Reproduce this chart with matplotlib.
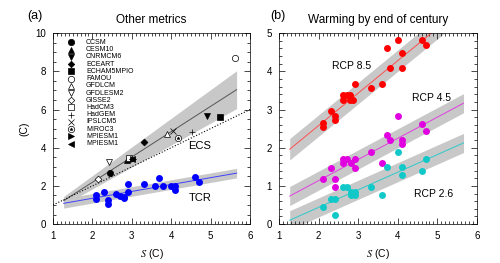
import numpy as np
import matplotlib
matplotlib.use("Agg")
import matplotlib.pyplot as plt
from matplotlib.ticker import MultipleLocator

plt.rcParams['font.family'] = ['Liberation Sans', 'DejaVu Sans']
plt.rcParams['mathtext.fontset'] = 'stix'

# ---- panel (a): ECS per model ----
models = ["CCSM", "CESM10", "CNRMCM6", "ECEART", "ECHAM5MPIO", "FAMOU", "GFDLCM",
          "GFDLESM2", "GISSE2", "HadCM3", "HadGEM", "IPSLCM5", "MIROC3", "MPIESM1", "MPIESM1"]
ecs_s = [2.45, 2.88, 4.92, 3.31, 5.24, 5.62, 3.90, 2.43, 2.13, 2.92, 4.54, 4.05, 4.16, 3.04, 3.00]
ecs_v = [2.69, 3.38, 5.68, 4.29, 5.59, 8.68, 4.72, 3.24, 2.38, 3.44, 4.81, 4.90, 4.52, 3.42, 3.40]
# marker, filled
mk = [("o", True), ("^", True), ("v", True), ("D", True), ("s", True), ("o", False), ("^", False),
      ("v", False), ("D", False), ("s", False), ("+", False), ("x", False), ("o", False),
      (">", True), ("<", True)]

# TCR
tcr_s = [2.1, 2.1, 2.3, 2.4, 2.4, 2.6, 2.7, 2.8, 2.8, 2.9, 2.9, 3.3, 3.6, 3.7, 3.8, 4.0, 4.1, 4.1, 4.6, 4.7]
tcr_v = [1.50, 1.30, 1.68, 1.25, 1.05, 1.55, 1.48, 1.42, 1.36, 1.70, 2.08, 2.08, 2.00, 2.40, 2.00, 2.00, 2.00, 1.80, 2.48, 2.18]

# fitted lines: slope, intercept, band half width
ecs_fit = [1.325, -0.46]
ecs_band = 0.175  # proportional to S
tcr_fit = [0.36, 0.63]
tcr_band = 0.25

# ---- panel (b): warming by 2100 ----
r85_s = [2.12, 2.12, 2.31, 2.41, 2.41, 2.61, 2.61, 2.71, 2.79, 2.80, 2.88, 2.92, 3.32, 3.61, 3.72, 3.80, 4.01, 4.11, 4.11, 4.62, 4.71]
r85_v = [2.64, 2.53, 2.95, 2.84, 2.73, 3.37, 3.26, 3.37, 3.37, 3.26, 3.26, 3.68, 3.56, 3.68, 4.60, 4.09, 4.82, 4.49, 4.09, 4.82, 4.70]
r45_s = [2.12, 2.31, 2.41, 2.41, 2.61, 2.61, 2.71, 2.81, 2.92, 2.92, 3.32, 3.61, 3.72, 3.80, 4.01, 4.11, 4.11, 4.62, 4.71]
r45_v = [1.18, 1.48, 1.18, 0.97, 1.70, 1.59, 1.70, 1.59, 1.70, 1.48, 1.90, 1.59, 2.32, 2.21, 2.82, 2.21, 2.10, 2.62, 2.44]
r26_s = [2.12, 2.31, 2.41, 2.41, 2.61, 2.71, 2.81, 2.81, 2.92, 2.92, 3.32, 3.61, 3.72, 4.01, 4.11, 4.11, 4.62, 4.71]
r26_v = [0.45, 0.65, 0.65, 0.24, 0.97, 0.97, 0.85, 0.76, 0.85, 0.76, 0.97, 0.76, 1.50, 1.89, 1.50, 1.29, 1.39, 1.70]

r85_fit = [0.85, 0.88]
r45_fit = [0.554, 0.03]
r26_fit = [0.461, -0.485]
rcp_band = [0.28, 0.25, 0.25]

fig = plt.figure(figsize=(5.0, 2.63), dpi=100)
axa = fig.add_axes([0.106, 0.148, 0.394, 0.726])
axb = fig.add_axes([0.558, 0.148, 0.396, 0.726])

xs = np.linspace(1.27, 5.66, 50)
band_col = "#c8c8c8"


def style(ax, ymaj, ymin):
    ax.set_xlim(1, 6)
    ax.xaxis.set_major_locator(MultipleLocator(1))
    ax.xaxis.set_minor_locator(MultipleLocator(0.1))
    ax.yaxis.set_major_locator(MultipleLocator(ymaj))
    ax.yaxis.set_minor_locator(MultipleLocator(ymin))
    ax.tick_params(which="both", direction="in", top=True, right=True, labelsize=7, width=0.5)
    ax.tick_params(which="major", length=4, pad=5)
    ax.tick_params(which="minor", length=2)
    for sp in ax.spines.values():
        sp.set_linewidth(0.5)
    ax.set_xlabel("$S$ (C)", fontsize=7.5)


# panel a
line = ecs_fit[0] * xs + ecs_fit[1]
axa.fill_between(xs, line - ecs_band * xs, line + ecs_band * xs, color=band_col, lw=0)
axa.plot(xs, line, color="#555555", lw=0.7)
line = tcr_fit[0] * xs + tcr_fit[1]
axa.fill_between(xs, line - tcr_band, line + tcr_band, color=band_col, lw=0)
axa.plot(xs, line, color="#4040ff", lw=0.7)
axa.plot([1, 6], [1, 6], ":", color="black", lw=0.8)
axa.plot(tcr_s, tcr_v, "o", color="#0000ff", ms=5, mec="none")

for i in range(len(models)):
    m, filled = mk[i]
    ms = 3.5 if m == "D" else 4.5
    fc = "black" if filled else "white"
    axa.plot(ecs_s[i], ecs_v[i], m, ms=ms, mfc=fc, mec="black", mew=0.5, color="black")
    if models[i] == "MIROC3":
        axa.plot(ecs_s[i], ecs_v[i], "*", ms=2.5, color="black", mew=0.3)
    # legend entries
    yy = 0.951 - i * 0.0378
    lms = 3.3 if m == "D" else 4.6
    axa.plot(0.091, yy, m, ms=lms, mfc=fc, mec="black", mew=0.5, color="black",
             transform=axa.transAxes, clip_on=False)
    if models[i] == "MIROC3":
        axa.plot(0.091, yy, "*", ms=2.5, color="black", mew=0.3, transform=axa.transAxes)
    axa.text(0.168, yy, models[i], fontsize=5, va="center", transform=axa.transAxes)

axa.text(4.73, 4.1, "ECS", fontsize=8, ha="center", va="center")
axa.text(4.73, 1.39, "TCR", fontsize=8, ha="center", va="center")
style(axa, 2, 0.5)
axa.set_ylim(0, 10)
axa.set_ylabel("(C)", fontsize=7.5, labelpad=4)
axa.set_title("Other metrics", fontsize=8.5, pad=7)
fig.text(0.054, 0.94, "(a)", fontsize=9, va="center")

# panel b
for fit, hw, lc, pc, s, v in [(r85_fit, rcp_band[0], "#ff5050", "#ff0000", r85_s, r85_v),
                              (r45_fit, rcp_band[1], "#e040e0", "#e000e0", r45_s, r45_v),
                              (r26_fit, rcp_band[2], "#30c8c8", "#10c8c8", r26_s, r26_v)]:
    line = fit[0] * xs + fit[1]
    axb.fill_between(xs, line - hw, line + hw, color=band_col, lw=0)
    axb.plot(xs, line, color=lc, lw=0.7)
    axb.plot(s, v, "o", color=pc, ms=5, mec="none")

axb.text(2.84, 4.15, "RCP 8.5", fontsize=7.5, ha="center", va="center")
axb.text(4.86, 3.3, "RCP 4.5", fontsize=7.5, ha="center", va="center")
axb.text(4.9, 0.8, "RCP 2.6", fontsize=7.5, ha="center", va="center")
style(axb, 1, 0.2)
axb.set_ylim(0, 5)
axb.set_title("Warming by end of century", fontsize=8.5, pad=7)
fig.text(0.54, 0.94, "(b)", fontsize=9, va="center")

fig.savefig("out.png", dpi=100)
